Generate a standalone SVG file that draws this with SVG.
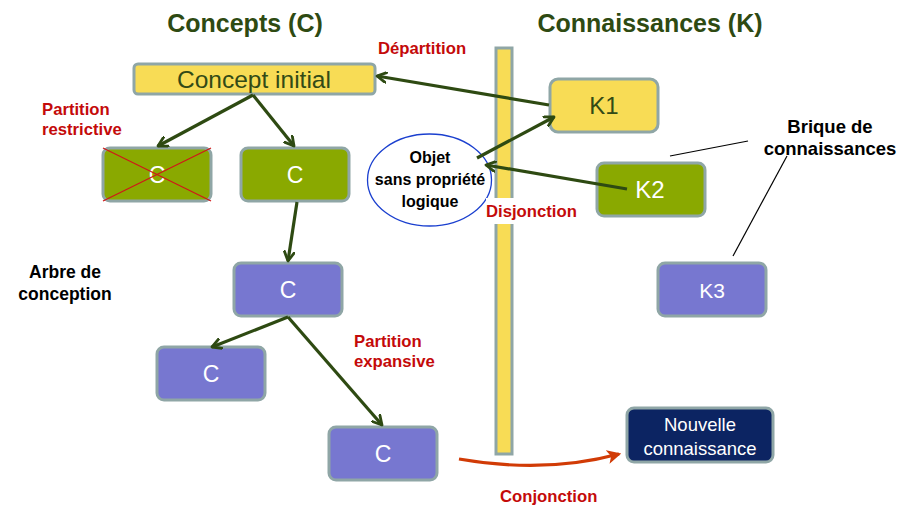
<svg xmlns="http://www.w3.org/2000/svg" width="900" height="506" viewBox="0 0 900 506">
<defs>
<marker id="ah" viewBox="0 0 12 12" refX="10" refY="6" markerWidth="12" markerHeight="12" markerUnits="userSpaceOnUse" orient="auto">
<path d="M1,1 L10,6 L1,11" fill="none" stroke="#2e4a12" stroke-width="2.8" stroke-linecap="round" stroke-linejoin="round"/>
</marker>
<marker id="ahr" viewBox="0 0 12 12" refX="10" refY="6" markerWidth="14" markerHeight="14" markerUnits="userSpaceOnUse" orient="auto">
<path d="M0,0 L12,6 L0,12 L3,6 Z" fill="#d13b06"/>
</marker>
</defs>
<style>
.box{stroke:#8fa6a6;stroke-width:3}
.yel{fill:#f8dc55}
.grn{fill:#8aa900}
.pur{fill:#7777d0}
.nav{fill:#0c2462}
.t{font-family:"Liberation Sans",Arial,sans-serif;text-anchor:middle}
.wt{fill:#ffffff;font-size:23px}
.dt{fill:#324a16;font-size:23px}
.ttl{font-family:"Liberation Sans",Arial,sans-serif;font-weight:bold;font-size:25px;fill:#2e4a12;text-anchor:middle}
.red{font-family:"Liberation Sans",Arial,sans-serif;font-weight:bold;font-size:16.7px;fill:#c40a0a}
.blk{font-family:"Liberation Sans",Arial,sans-serif;font-weight:bold;fill:#000000;text-anchor:middle}
.con{fill:none;stroke:#2e4a12;stroke-width:3.2;marker-end:url(#ah)}
</style>
<rect width="900" height="506" fill="#ffffff"/>
<text class="ttl" x="245" y="32">Concepts (C)</text>
<text class="ttl" x="650" y="32">Connaissances (K)</text>
<g id="bar"><rect x="496" y="48" width="16" height="406" class="box yel" stroke-width="2.5"/></g>
<g id="concept-initial"><rect x="134" y="64" width="241" height="30" rx="4" class="box yel"/><text class="t dt" x="254" y="88" style="font-size:24.5px">Concept initial</text></g>
<g id="c-crossed"><rect x="103" y="148" width="108" height="53" rx="7" class="box grn"/><text class="t wt" x="157" y="183">C</text>
<line x1="103" y1="148" x2="211" y2="201" stroke="#d01818" stroke-width="1.3"/><line x1="103" y1="201" x2="211" y2="148" stroke="#d01818" stroke-width="1.3"/></g>
<g id="c-green"><rect x="241" y="148" width="108" height="53" rx="7" class="box grn"/><text class="t wt" x="295" y="183">C</text></g>
<g id="c-mid"><rect x="234" y="263" width="108" height="53" rx="7" class="box pur"/><text class="t wt" x="288" y="298">C</text></g>
<g id="c-left"><rect x="157" y="347" width="108" height="53" rx="7" class="box pur"/><text class="t wt" x="211" y="382">C</text></g>
<g id="c-bottom"><rect x="329" y="427" width="108" height="53" rx="7" class="box pur"/><text class="t wt" x="383" y="462">C</text></g>
<g id="k1"><rect x="550" y="79" width="108" height="53" rx="8" class="box yel"/><text class="t dt" x="604" y="114" style="font-size:24px">K1</text></g>
<g id="k2"><rect x="597" y="163" width="108" height="53" rx="7" class="box grn"/><text class="t wt" x="650" y="198" style="font-size:24px">K2</text></g>
<g id="k3"><rect x="658" y="263" width="108" height="53" rx="7" class="box pur"/><text class="t wt" x="712" y="298" style="font-size:21px">K3</text></g>
<g id="nouvelle"><rect x="627" y="408" width="146" height="54" rx="7" class="box nav"/><text class="t" x="700" y="431" fill="#ffffff" font-size="18.5">Nouvelle</text><text class="t" x="700" y="455" fill="#ffffff" font-size="18.5">connaissance</text></g>
<g id="objet"><ellipse cx="429.5" cy="180" rx="62" ry="46" fill="#ffffff" stroke="#1a3fcf" stroke-width="1.3"/>
<text class="blk" x="430" y="163" font-size="16">Objet</text><text class="blk" x="430" y="185" font-size="16">sans propriété</text><text class="blk" x="430" y="207" font-size="16">logique</text></g>
<g id="brique"><text class="blk" x="830" y="133" font-size="18.5">Brique de</text><text class="blk" x="830" y="155" font-size="18.5">connaissances</text></g>
<g id="arbre"><text class="blk" x="65" y="278" font-size="17.5">Arbre de</text><text class="blk" x="65" y="300" font-size="17.5">conception</text></g>
<g id="connectors">
<line class="con" x1="253" y1="95" x2="158" y2="146"/>
<line class="con" x1="253" y1="95" x2="294" y2="146"/>
<line class="con" x1="297" y1="202" x2="288" y2="261"/>
<line class="con" x1="288" y1="317" x2="212" y2="347"/>
<line class="con" x1="288" y1="317" x2="382" y2="425"/>
<line class="con" x1="549" y1="105" x2="377" y2="76"/>
<line class="con" x1="477" y1="158" x2="554" y2="117"/>
<line class="con" x1="627" y1="189" x2="486" y2="165"/>
<line x1="670" y1="156" x2="748" y2="141" stroke="#000" stroke-width="1.2"/>
<line x1="733" y1="256" x2="787" y2="156" stroke="#000" stroke-width="1.2"/>
<path d="M459,459 Q545,474 619,454" fill="none" stroke="#d13b06" stroke-width="3.2" marker-end="url(#ahr)"/>
</g>
<text class="red" x="378" y="54">Départition</text>
<g><text class="red" x="42" y="115">Partition</text><text class="red" x="42" y="135">restrictive</text></g>
<g><text class="red" x="354" y="347">Partition</text><text class="red" x="354" y="367">expansive</text></g>
<rect x="486" y="198" width="92" height="26" fill="#ffffff"/>
<text class="red" x="486" y="217">Disjonction</text>
<text class="red" x="500" y="502">Conjonction</text>
</svg>
